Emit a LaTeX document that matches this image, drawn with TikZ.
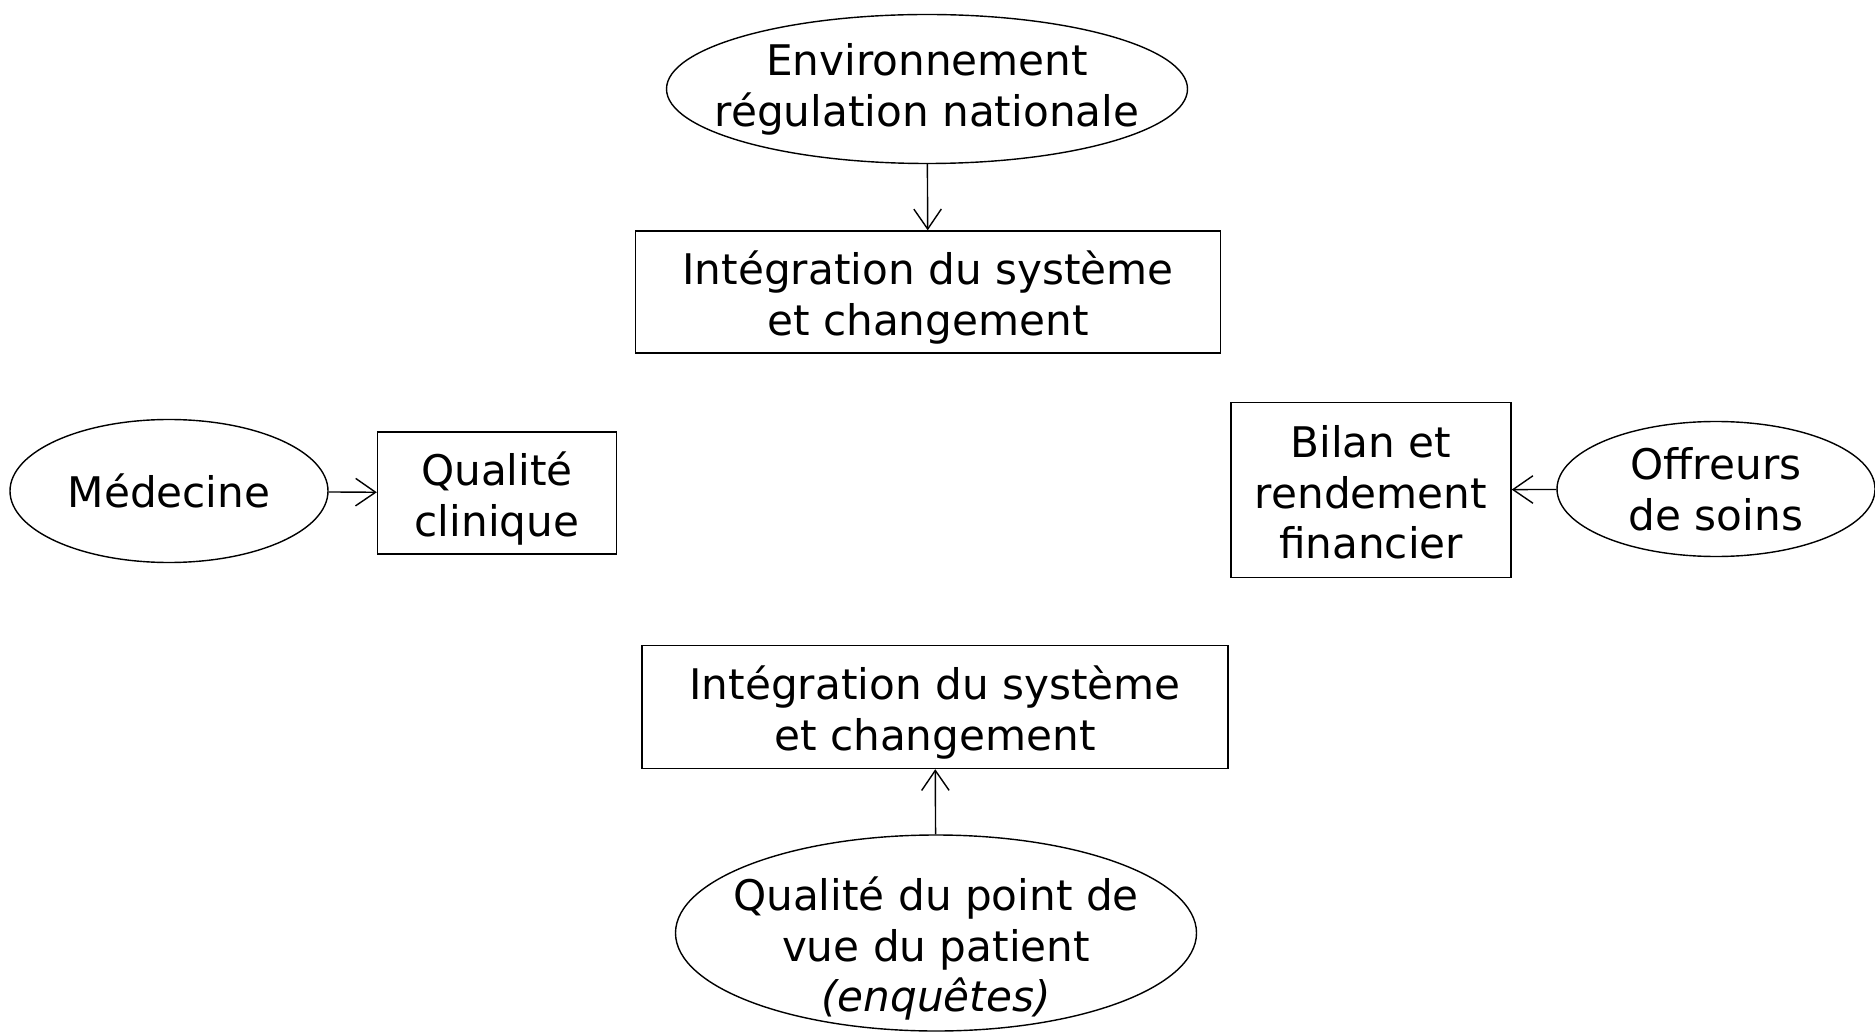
\documentclass[tikz,border=0pt]{standalone}
\usepackage{fontspec}
\setmainfont{DejaVu Sans}
\usepackage{tikz}
\usetikzlibrary{arrows.meta,shapes.geometric}

% texte centre, sans taille propre (la forme garde sa taille minimum)
\newcommand{\bloc}[2][0.16cm]{\makebox[0pt]{\smash{\raisebox{\dimexpr(\depth-\height)/2-#1\relax}{\begin{tabular}{@{}c@{}}#2\end{tabular}}}}}

\tikzset{
    oval/.style = {draw, ellipse, inner sep=0pt, line width=0.8pt},
    boite/.style = {draw, rectangle, inner sep=0pt, line width=0.8pt},
    fleche/.style = {-{Straight Barb[length=4mm,width=5.5mm]}, line width=0.8pt}
}

\begin{document}
\begin{tikzpicture}[x=0.02cm, y=-0.02cm, font={\fontsize{24}{28.5}\selectfont}]
        \useasboundingbox (0,0) rectangle (1875,1033);

        % haut
        \node[oval, minimum width=521*0.02cm, minimum height=149*0.02cm] (env) at (927, 89) {\bloc[0.04cm]{Environnement\\régulation nationale}};
        \node[boite, minimum width=585*0.02cm, minimum height=122*0.02cm] (integHaut) at (928, 292) {\bloc{Intégration du système\\et changement}};

        % gauche
        \node[oval, minimum width=318*0.02cm, minimum height=143*0.02cm] (medecine) at (169, 491) {\bloc[0.12cm]{Médecine}};
        \node[boite, minimum width=239*0.02cm, minimum height=122*0.02cm] (clinique) at (497, 493) {\bloc{Qualité\\clinique}};

        % droite
        \node[boite, minimum width=280*0.02cm, minimum height=175*0.02cm] (bilan) at (1371, 490) {\bloc{Bilan et\\rendement\\financier}};
        \node[oval, minimum width=318*0.02cm, minimum height=135*0.02cm] (offreurs) at (1716, 489) {\bloc[0.12cm]{Offreurs\\de soins}};

        % bas
        \node[boite, minimum width=586*0.02cm, minimum height=123*0.02cm] (integBas) at (935, 707) {\bloc{Intégration du système\\et changement}};
        \node[oval, minimum width=521*0.02cm, minimum height=196*0.02cm] (patient) at (936, 933) {\bloc[0.36cm]{Qualité du point de\\vue du patient\\\textit{(enquêtes)}}};

        % fleches
        \draw[fleche] (env) -- (integHaut);
        \draw[fleche] (medecine) -- (clinique);
        \draw[fleche] (offreurs) -- (bilan);
        \draw[fleche] (patient) -- (integBas);

    \end{tikzpicture}
\end{document}
